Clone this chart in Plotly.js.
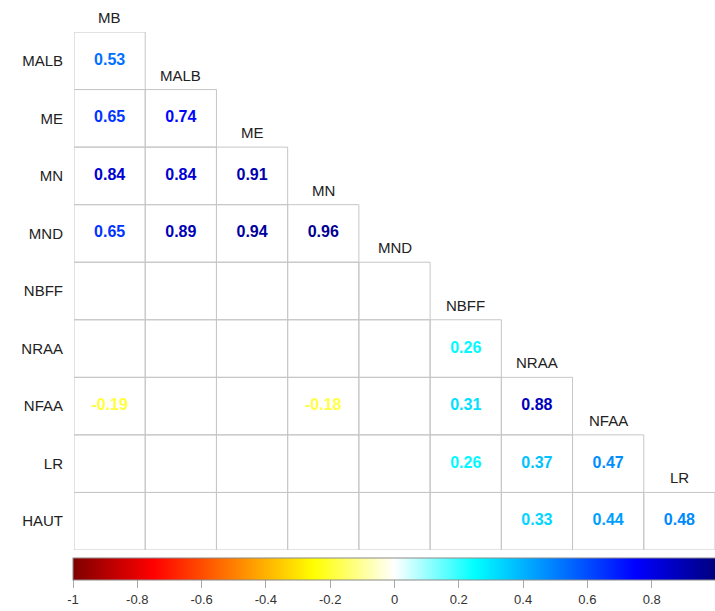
<!DOCTYPE html>
<html>
<head>
<meta charset="utf-8">
<script src="https://cdn.plot.ly/plotly-3.0.1.min.js"></script>
<style>html,body{margin:0;padding:0;background:#fff;}#chart{width:715px;height:611px;}</style>
</head>
<body>
<div id="chart"></div>
<script>
// Data
const cols = ['MB','MALB','ME','MN','MND','NBFF','NRAA','NFAA','LR'];
const rows = ['MALB','ME','MN','MND','NBFF','NRAA','NFAA','LR','HAUT'];
const rowMALB = [0.53];
const rowME   = [0.65, 0.74];
const rowMN   = [0.84, 0.84, 0.91];
const rowMND  = [0.65, 0.89, 0.94, 0.96];
const rowNBFF = [null, null, null, null, null];
const rowNRAA = [null, null, null, null, null, 0.26];
const rowNFAA = [-0.19, null, null, -0.18, null, 0.31, 0.88];
const rowLR   = [null, null, null, null, null, 0.26, 0.37, 0.47];
const rowHAUT = [null, null, null, null, null, null, 0.33, 0.44, 0.48];
const values = [rowMALB, rowME, rowMN, rowMND, rowNBFF, rowNRAA, rowNFAA, rowLR, rowHAUT];
const cbTicks = [-1, -0.8, -0.6, -0.4, -0.2, 0, 0.2, 0.4, 0.6, 0.8, 1];

const palette = ['#7F0000','#FF0000','#FF7F00','#FFFF00','#FFFFFF','#00FFFF','#007FFF','#0000FF','#00007F'];
const colorscale = palette.map((c, k) => [k / (palette.length - 1), c]);

function hex2rgb(h){return [parseInt(h.substr(1,2),16),parseInt(h.substr(3,2),16),parseInt(h.substr(5,2),16)];}
function colorFor(v){
  const t = (v + 1) / 2 * (palette.length - 1);
  const k = Math.min(Math.floor(t), palette.length - 2);
  const f = t - k;
  const a = hex2rgb(palette[k]), b = hex2rgb(palette[k+1]);
  const c = a.map((x, i) => Math.round(x + (b[i] - x) * f));
  return 'rgb(' + c.join(',') + ')';
}

const FONT = 'Liberation Sans, Arial, sans-serif';

// cell borders for the lower triangle, built from the row/column indices
const shapes = [];
values.forEach((row, i) => row.forEach((v, j) => {
  shapes.push({type: 'rect', xref: 'x', yref: 'y', x0: j - 0.5, x1: j + 0.5, y0: i - 0.5, y1: i + 0.5,
               line: {color: '#c6c6c6', width: 1}, fillcolor: 'rgba(0,0,0,0)', layer: 'below'});
}));

const tx = [], ty = [], tt = [], tc = [], tv = [];
values.forEach((row, i) => row.forEach((v, j) => {
  if (v !== null) { tx.push(cols[j]); ty.push(rows[i]); tt.push(v.toFixed(2)); tc.push(colorFor(v)); tv.push(v); }
}));

// invisible anchor so both category axes hold every category in order
const anchor = {
  type: 'scatter', mode: 'markers', x: cols, y: rows, marker: {size: 1, opacity: 0}, hoverinfo: 'skip'
};

const labels = {
  type: 'scatter', mode: 'markers+text', x: tx, y: ty, text: tt,
  textposition: 'middle center',
  textfont: {family: FONT, size: 16, color: tc, weight: 'bold'},
  marker: {
    size: 1, opacity: 0, color: tv, colorscale: colorscale, cmin: -1, cmax: 1, showscale: true,
    colorbar: {
      orientation: 'h', x: 0.5, xanchor: 'center', y: -0.0154, yanchor: 'top',
      lenmode: 'pixels', len: 643, thickness: 22, thicknessmode: 'pixels',
      xpad: 0, ypad: 0, outlinecolor: '#8a8a8a', outlinewidth: 1,
      tickmode: 'array', tickvals: cbTicks, ticktext: cbTicks.map(String),
      ticks: 'outside', ticklen: 8, tickcolor: '#aaa',
      tickfont: {family: FONT, size: 13, color: '#333'}
    }
  },
  hoverinfo: 'skip', cliponaxis: false
};

const annotations = cols.map((c, j) => ({
  x: j, y: j - 0.5, xref: 'x', yref: 'y', text: c, showarrow: false,
  yanchor: 'bottom', yshift: 4,
  font: {family: FONT, size: 15, color: '#222'}
}));

const layout = {
  width: 715, height: 611,
  margin: {l: 74, r: 0, t: 32, b: 61, pad: 0, autoexpand: false},
  paper_bgcolor: '#fff', plot_bgcolor: '#fff',
  showlegend: false,
  xaxis: {type: 'category', categoryorder: 'array', categoryarray: cols, range: [-0.5, cols.length - 0.5],
          showgrid: false, zeroline: false, showticklabels: false, ticks: '', showline: false},
  yaxis: {type: 'category', categoryorder: 'array', categoryarray: rows, range: [rows.length - 0.5, -0.5],
          showgrid: false, zeroline: false, ticks: '', showline: false,
          ticklabelstandoff: 10,
          tickfont: {family: FONT, size: 15, color: '#222'}},
  shapes: shapes,
  annotations: annotations
};

Plotly.newPlot('chart', [anchor, labels], layout, {displayModeBar: false, staticPlot: true});
</script>
</body>
</html>
